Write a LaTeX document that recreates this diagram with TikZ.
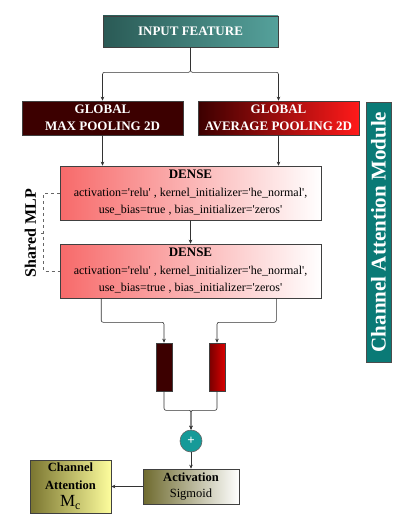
\documentclass[tikz,border=0pt]{standalone}
\usepackage{fontspec}
\setmainfont{Liberation Serif}
\usetikzlibrary{arrows.meta,calc}
\definecolor{tealdark}{HTML}{2A5A55}
\definecolor{teallight}{HTML}{55A19B}
\definecolor{maroon}{HTML}{3C0000}
\definecolor{redbright}{HTML}{FF1A1A}
\definecolor{densered}{HTML}{F76A6A}
\definecolor{olivedark}{HTML}{6E6A2E}
\definecolor{olivemid}{HTML}{7A7530}
\definecolor{lightyellow}{HTML}{FDFD9D}
\definecolor{moduleteal}{HTML}{0A7A76}
\definecolor{plusteal}{HTML}{169A98}
\newcommand{\sq}{\textquotesingle}
\tikzset{
  box/.style={draw=black!75, line width=0.6pt, inner sep=0pt, align=center},
  arr/.style={-{Stealth[length=4pt,width=3.5pt]}, draw=black!80, line width=0.6pt, rounded corners=2pt},
  whitetxt/.style={text=white, font=\bfseries\fontsize{13}{17.5}\selectfont},
  densebox/.style={box, minimum width=261pt, minimum height=54pt, left color=densered, right color=white,
    font=\fontsize{12}{17.5}\selectfont},
}
\begin{document}
\begin{tikzpicture}[x=1pt,y=-1pt]
\useasboundingbox (0,0) rectangle (406,519);
% input
\node[box, whitetxt, minimum width=175pt, minimum height=31pt, left color=tealdark, right color=teallight]
  (input) at (190.5,31.5) {INPUT FEATURE};
% pooling
\node[box, whitetxt, minimum width=161pt, minimum height=34pt, fill=maroon]
  (maxpool) at (102.5,118) {GLOBAL\\MAX POOLING 2D};
\node[box, whitetxt, minimum width=161pt, minimum height=34pt, left color=maroon, right color=redbright]
  (avgpool) at (278.5,118) {GLOBAL\\AVERAGE POOLING 2D};
% dense
\node[densebox] (dense1) at (190.5,193) {{\bfseries\fontsize{13}{17.5}\selectfont DENSE}\\activation=\sq relu\sq\ , kernel\_initializer=\sq he\_normal\sq,\\use\_bias=true , bias\_initializer=\sq zeros\sq};
\node[densebox] (dense2) at (190.5,271) {{\bfseries\fontsize{13}{17.5}\selectfont DENSE}\\activation=\sq relu\sq\ , kernel\_initializer=\sq he\_normal\sq,\\use\_bias=true , bias\_initializer=\sq zeros\sq};
% bars
\node[box, minimum width=16pt, minimum height=48pt, fill=maroon] (bar1) at (164,367) {};
\node[box, minimum width=16pt, minimum height=48pt, left color=maroon!70!red, right color=red!85!black] (bar2) at (217,367) {};
% plus
\node[circle, draw=black!60, line width=0.6pt, fill=plusteal, minimum size=22pt, inner sep=0pt,
  text=white, font=\bfseries\fontsize{13}{13}\selectfont] (plus) at (191,441) {+};
% activation
\node[box, minimum width=96pt, minimum height=35pt, left color=olivedark, right color=white,
  font=\fontsize{12.5}{16}\selectfont] (act) at (191,486.5) {{\bfseries Activation}\\Sigmoid};
% channel attention
\node[box, minimum width=81pt, minimum height=53pt, left color=olivemid, right color=lightyellow,
  font=\bfseries\fontsize{12.5}{17.5}\selectfont] (ca) at (70.5,486.5) {Channel\\Attention\\{\mdseries\fontsize{17}{17}\selectfont M$_{\mathrm{c}}$}};
% module label
\node[box, minimum width=260pt, minimum height=25pt, fill=moduleteal, draw=black!70,
  text=white, font=\bfseries\fontsize{21}{21}\selectfont, rotate=90] (module) at (378.5,232) {Channel Attention Module};
% shared MLP
\node[rotate=90, font=\bfseries\fontsize{16}{16}\selectfont, inner sep=0pt] (mlp) at (30.5,233) {Shared MLP};
% connectors
\draw[arr] (input.south) -- ++(0,25) -| (maxpool.north);
\draw[arr] (input.south) -- ++(0,25) -| (avgpool.north);
\draw[arr] (maxpool.south) -- (maxpool.south |- dense1.north);
\draw[arr] (avgpool.south) -- (avgpool.south |- dense1.north);
\draw[arr] (dense1.south) -- (dense2.north);
\draw[arr] ($(dense2.south west)+(41.5,0)$) -- ++(0,24) -| (bar1.north);
\draw[arr] ($(dense2.south east)+(-45,0)$) -- ++(0,24) -| (bar2.north);
\draw[arr] (bar1.south) -- ++(0,19) -| (plus.north);
\draw[arr] (bar2.south) -- ++(0,19) -| (plus.north);
\draw[arr] (plus.south) -- (act.north);
\draw[arr] (act.west) -- (ca.east);
% dashed bracket
\draw[dashed, draw=black!60, line width=0.6pt] (dense1.west) -- ++(-16,0) coordinate (b1) |- (dense2.west);
\coordinate (bm) at ($(b1)+(0,40)$);
\draw[draw=black!60, line width=0.6pt] (bm) -- ++(-3,0);
\end{tikzpicture}
\end{document}
